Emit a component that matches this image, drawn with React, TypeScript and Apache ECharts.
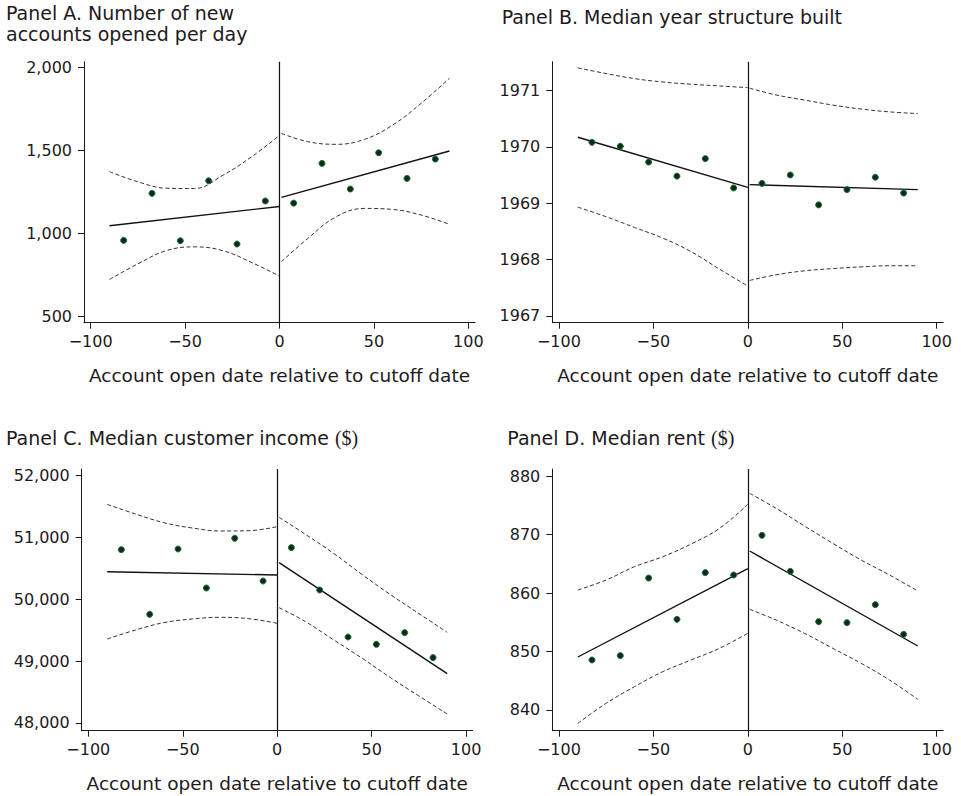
import React, { useEffect, useRef } from "react";
import * as echarts from "echarts";

// Bin centres (days relative to cutoff)
const binX = [-82.5, -67.5, -52.5, -37.5, -22.5, -7.5, 7.5, 22.5, 37.5, 52.5, 67.5, 82.5];
const bandXLeft = [-90, -75, -60, -45, -30, -15, 0];
const bandXRight = [1, 15, 30, 45, 60, 75, 90];
const fitXLeft = [-90, 0];
const fitXRight = [1, 90];
const xTicks = [-100, -50, 0, 50, 100];

// Panel A
const accountsPts = [957, 1241, 955, 1317, 935, 1195, 1182, 1422, 1267, 1486, 1331, 1448];
const accountsFitL = [1045, 1162];
const accountsFitR = [1217, 1497];
const accountsUpL = [1372, 1311, 1272, 1270, 1350, 1460, 1591];
const accountsLoL = [721, 815, 895, 918, 895, 825, 741];
const accountsUpR = [1603, 1553, 1537, 1567, 1654, 1785, 1936];
const accountsLoR = [828, 969, 1100, 1150, 1144, 1110, 1054];
const accountsTicks = [500, 1000, 1500, 2000];

// Panel B
const yearPts = [1970.08, 1970.01, 1969.73, 1969.48, 1969.79, 1969.27, 1969.35, 1969.5, 1968.97, 1969.24, 1969.46, 1969.18];
const yearFitL = [1970.17, 1969.28];
const yearFitR = [1969.33, 1969.24];
const yearUpL = [1971.4, 1971.3, 1971.21, 1971.15, 1971.11, 1971.08, 1971.05];
const yearLoL = [1968.93, 1968.76, 1968.57, 1968.38, 1968.14, 1967.83, 1967.53];
const yearUpR = [1971.04, 1970.92, 1970.83, 1970.74, 1970.67, 1970.62, 1970.59];
const yearLoR = [1967.63, 1967.73, 1967.8, 1967.84, 1967.87, 1967.89, 1967.89];
const yearTicks = [1967, 1968, 1969, 1970, 1971];

// Panel C
const incomePts = [50803, 49757, 50814, 50183, 50987, 50296, 50836, 50151, 49391, 49272, 49461, 49057];
const incomeFitL = [50447, 50393];
const incomeFitR = [50593, 48798];
const incomeUpL = [51536, 51380, 51240, 51154, 51105, 51110, 51175];
const incomeLoL = [49358, 49504, 49623, 49682, 49709, 49687, 49612];
const incomeUpR = [51326, 51050, 50740, 50400, 50075, 49770, 49466];
const incomeLoR = [49865, 49639, 49342, 49046, 48733, 48437, 48146];
const incomeTicks = [48000, 49000, 50000, 51000, 52000];

// Panel D
const rentPts = [848.55, 849.29, 862.56, 855.5, 863.48, 863.08, 869.86, 863.7, 855.1, 854.93, 858.01, 852.93];
const rentFitL = [849.06, 864.16];
const rentFitR = [867.18, 850.94];
const rentUpL = [860.51, 862.22, 864.5, 866.21, 868.38, 871.05, 875.16];
const rentLoL = [837.72, 841.14, 843.99, 846.55, 848.55, 850.54, 853.11];
const rentUpR = [877.04, 874.47, 871.45, 868.49, 865.64, 863.08, 860.34];
const rentLoR = [857.21, 855.38, 853.11, 850.54, 847.98, 845.13, 841.82];
const rentTicks = [840, 850, 860, 870, 880];

const FONT = "DejaVu Sans";
const TXT = "#1e1a1b";

const panels = [
  {
    pts: accountsPts, fitL: accountsFitL, fitR: accountsFitR,
    upL: accountsUpL, loL: accountsLoL, upR: accountsUpR, loR: accountsLoR,
    ticks: accountsTicks, min: 460, max: 2036, comma: true,
    grid: { left: 84, top: 61.7, width: 391, height: 261 },
  },
  {
    pts: yearPts, fitL: yearFitL, fitR: yearFitR,
    upL: yearUpL, loL: yearLoL, upR: yearUpR, loR: yearLoR,
    ticks: yearTicks, min: 1966.88, max: 1971.51, comma: false,
    grid: { left: 552.3, top: 61.7, width: 391, height: 261 },
  },
  {
    pts: incomePts, fitL: incomeFitL, fitR: incomeFitR,
    upL: incomeUpL, loL: incomeLoL, upR: incomeUpR, loR: incomeLoR,
    ticks: incomeTicks, min: 47875, max: 52108, comma: true,
    grid: { left: 81.7, top: 469, width: 391, height: 261.7 },
  },
  {
    pts: rentPts, fitL: rentFitL, fitR: rentFitR,
    upL: rentUpL, loL: rentLoL, upR: rentUpR, loR: rentLoR,
    ticks: rentTicks, min: 836.46, max: 881.2, comma: false,
    grid: { left: 552.3, top: 469, width: 391, height: 261.7 },
  },
];

const zip = (xs: number[], ys: number[]) => xs.map((x, i) => [x, ys[i]]);

function buildOption() {
  const grids: any[] = [];
  const xAxes: any[] = [];
  const yAxes: any[] = [];
  const series: any[] = [];
  panels.forEach((p, i) => {
    grids.push({ ...p.grid, containLabel: false });
    xAxes.push({
      type: "value", gridIndex: i, min: -103.5, max: 103.5,
      name: "Account open date relative to cutoff date",
      nameLocation: "middle", nameGap: 43,
      nameTextStyle: { fontFamily: FONT, fontSize: 18.5, color: TXT },
      axisLine: { show: true, onZero: false, lineStyle: { color: "#1a1a1a", width: 1 } },
      axisTick: { show: true, length: 6, customValues: xTicks, lineStyle: { color: "#1a1a1a" } },
      axisLabel: {
        customValues: xTicks, margin: 11, fontFamily: FONT, fontSize: 16, color: TXT,
        formatter: (v: number) => (v < 0 ? "\u2212" + Math.abs(v) : String(v)),
      },
      splitLine: { show: false },
    });
    yAxes.push({
      type: "value", gridIndex: i, min: p.min, max: p.max,
      axisLine: { show: true, onZero: false, lineStyle: { color: "#1a1a1a", width: 1 } },
      axisTick: { show: true, length: 6, customValues: p.ticks, lineStyle: { color: "#1a1a1a" } },
      axisLabel: {
        customValues: p.ticks, margin: 12, fontFamily: FONT, fontSize: 16, color: TXT,
        formatter: (v: number) => (p.comma ? v.toLocaleString("en-US") : String(v)),
      },
      splitLine: { show: false },
    });
    const dashed = (xs: number[], ys: number[]) => ({
      type: "line", xAxisIndex: i, yAxisIndex: i, data: zip(xs, ys),
      smooth: 0.4, showSymbol: false, silent: true, z: 2,
      lineStyle: { color: "#333", width: 1, type: [4, 2.5] },
    });
    const solid = (xs: number[], ys: number[]) => ({
      type: "line", xAxisIndex: i, yAxisIndex: i, data: zip(xs, ys),
      showSymbol: false, silent: true, z: 2,
      lineStyle: { color: "#111", width: 1.4 },
    });
    series.push(dashed(bandXLeft, p.upL), dashed(bandXLeft, p.loL));
    series.push(dashed(bandXRight, p.upR), dashed(bandXRight, p.loR));
    series.push(solid(fitXLeft, p.fitL), solid(fitXRight, p.fitR));
    series.push({
      type: "scatter", xAxisIndex: i, yAxisIndex: i, data: zip(binX, p.pts),
      symbolSize: 6, z: 4,
      itemStyle: { color: "#0c2c17", borderColor: "#1f6e3c", borderWidth: 1, opacity: 1 },
      markLine: {
        silent: true, symbol: ["none", "none"], label: { show: false },
        lineStyle: { color: "#111", width: 1.2, type: "solid" },
        data: [{ xAxis: 0 }],
      },
    });
  });

  const tStyle = {
    fontFamily: FONT, fontSize: 19, fontWeight: "normal", color: TXT, lineHeight: 21,
    rich: { s: { fontFamily: "Liberation Serif", fontSize: 20, color: TXT } },
  };
  const titles = [
    { text: "Panel A. Number of new\naccounts opened per day", left: 6, top: 2.5 },
    { text: "Panel B. Median year structure built", left: 501.7, top: 6.5 },
    { text: "Panel C. Median customer income {s|($)}", left: 6, top: 427.5 },
    { text: "Panel D. Median rent {s|($)}", left: 507.3, top: 427.5 },
  ].map((t) => ({ ...t, padding: 0, textStyle: tStyle }));

  return {
    animation: false,
    backgroundColor: "#ffffff",
    title: titles,
    grid: grids,
    xAxis: xAxes,
    yAxis: yAxes,
    series,
  };
}

export default function App() {
  const ref = useRef<HTMLDivElement>(null);
  useEffect(() => {
    if (!ref.current) return;
    const chart = echarts.init(ref.current, null, { renderer: "svg" });
    chart.setOption(buildOption() as any);
    return () => chart.dispose();
  }, []);
  return (
    <div
      ref={ref}
      style={{ position: "fixed", left: 0, top: 0, width: 961, height: 796, background: "#fff" }}
    />
  );
}
